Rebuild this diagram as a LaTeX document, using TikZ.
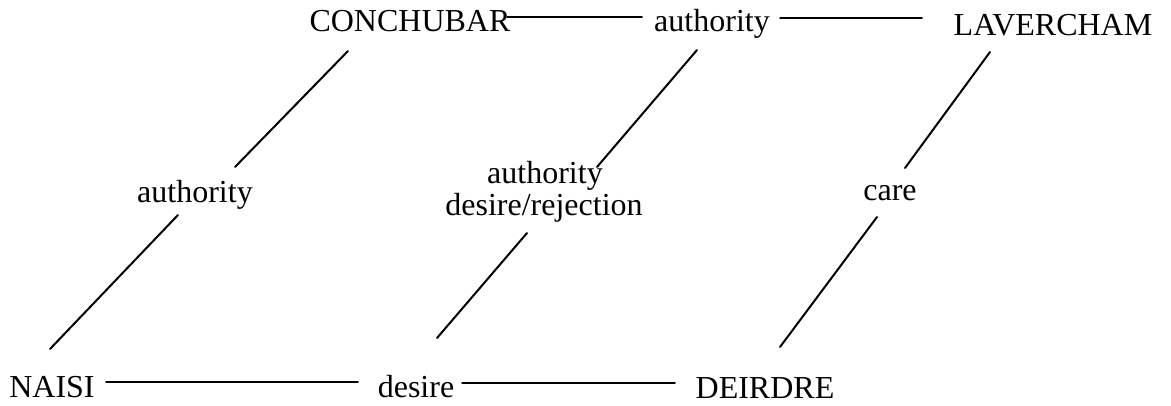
\documentclass[tikz,border=0pt]{standalone}
\usepackage{fontspec}
\setmainfont{Liberation Serif}
\begin{document}
\begin{tikzpicture}[x=1pt,y=-1pt,
  lbl/.style={inner sep=0pt,anchor=base,font=\fontsize{32}{32}\selectfont},
  link/.style={line width=2pt,line cap=round},
  hlink/.style={line width=1.5pt,line cap=round}]
\useasboundingbox (0,0) rectangle (1171,405);
\node[lbl] (con) at (410,31) {CONCHUBAR};
\node[lbl] (authT) at (712,31) {authority};
\node[lbl] (lav) at (1053,35) {LAVERCHAM};
\node[lbl] (authL) at (195,202) {authority};
\node[lbl] (authM) at (545,183) {authority};
\node[lbl] (desrej) at (544,215) {desire/rejection};
\node[lbl] (care) at (890,200) {care};
\node[lbl] (naisi) at (52,397) {NAISI};
\node[lbl] (desire) at (416,397) {desire};
\node[lbl] (deirdre) at (765,398) {DEIRDRE};
% horizontal connectors
\draw[hlink] ([shift={(97,-14)}]con.base) -- ([shift={(-70,-14)}]authT.base);
\draw[hlink] ([shift={(68,-13)}]authT.base) -- ([shift={(-131,-17)}]lav.base);
\draw[hlink] ([shift={(54,-15)}]naisi.base) -- ([shift={(-58,-15)}]desire.base);
\draw[hlink] ([shift={(46,-14)}]desire.base) -- ([shift={(-90,-15)}]deirdre.base);
% diagonal connectors
\draw[link] ([shift={(-62,20)}]con.base) -- ([shift={(40,-35)}]authL.base);
\draw[link] ([shift={(-17,13)}]authL.base) -- ([shift={(-2,-48)}]naisi.base);
\draw[link] ([shift={(-15,19)}]authT.base) -- ([shift={(52,-16)}]authM.base);
\draw[link] ([shift={(-17,18)}]desrej.base) -- ([shift={(21,-59)}]desire.base);
\draw[link] ([shift={(-63,17)}]lav.base) -- ([shift={(15,-32)}]care.base);
\draw[link] ([shift={(-13,17)}]care.base) -- ([shift={(15,-51)}]deirdre.base);
\end{tikzpicture}
\end{document}
